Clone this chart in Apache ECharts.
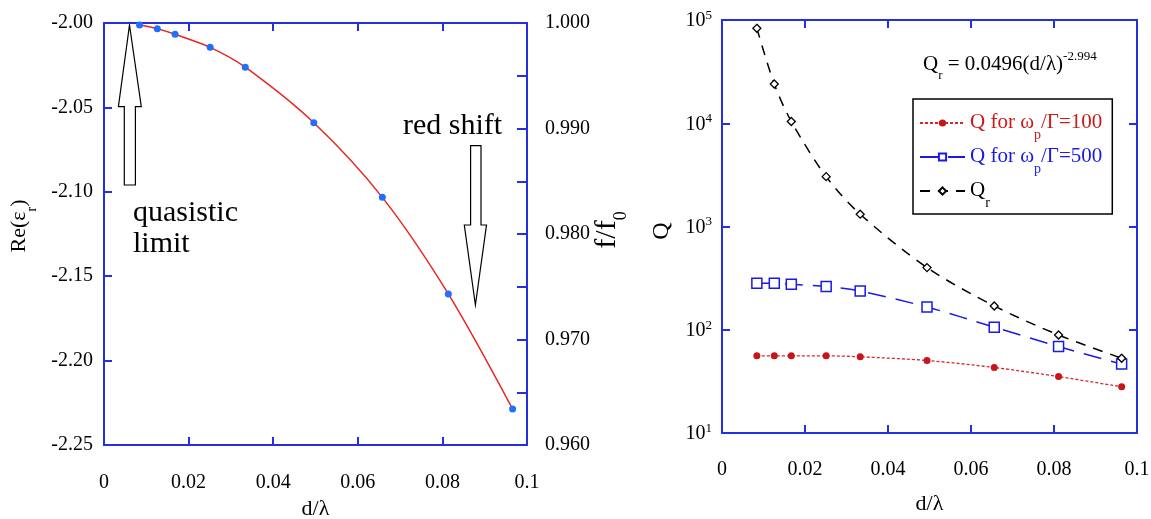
<!DOCTYPE html>
<html>
<head>
<meta charset="utf-8">
<script src="https://cdn.jsdelivr.net/npm/echarts@6/dist/echarts.min.js"></script>
<style>
  html, body { margin: 0; padding: 0; background: #fff; }
  #chart { width: 1151px; height: 519px; }
</style>
</head>
<body>
<div id="chart"></div>
<script>
// left panel: Re(eps_r) against d/lambda
const dLeft = [0.0084, 0.0126, 0.0168, 0.0251, 0.0334, 0.0496, 0.0658, 0.0814, 0.0966];
const reEps = [-2.0012, -2.0034, -2.0067, -2.0144, -2.0262, -2.0591, -2.1033, -2.1605, -2.2287];

// right panel: quality factors against d/lambda
const dRight = [0.0084, 0.0126, 0.0167, 0.0251, 0.0333, 0.0494, 0.0656, 0.0811, 0.0963];
const q100 = [55.9, 55.9, 55.9, 55.9, 54.7, 50.4, 43.1, 35.2, 28.0];
const q500 = [282, 282, 276, 262, 237, 166, 106, 68.7, 46.5];
const qr = [83100, 24000, 10400, 3040, 1316, 400, 170, 89, 53];

const xTicks = ['0', '0.02', '0.04', '0.06', '0.08', '0.1'];
const names = ['Q for ωp/Γ=100', 'Q for ωp/Γ=500', 'Qr'];

const FONT = 'Liberation Serif';
const FRAME = '#2430e0';

function zip(xs, ys) {
  return xs.map((x, i) => [x, ys[i]]);
}
function xLabel(v) {
  return xTicks[Math.round(v / 0.02)];
}

function frameAxis(extra) {
  return Object.assign({
    axisLine: {onZero: false, lineStyle: {color: FRAME, width: 2}},
    axisTick: {inside: true, length: 8, lineStyle: {color: FRAME, width: 2}},
    splitLine: {show: false},
    axisLabel: {color: '#000', fontFamily: FONT, fontSize: 20}
  }, extra);
}

const supRich = {
  b: {fontFamily: FONT, fontSize: 20, color: '#000', lineHeight: 22, verticalAlign: 'bottom'},
  e: {fontFamily: FONT, fontSize: 13, color: '#000', lineHeight: 13, verticalAlign: 'top'}
};

function legendRich(color, key) {
  const r = {};
  r[key] = {fontFamily: FONT, fontSize: 21, color: color, lineHeight: 22, verticalAlign: 'top'};
  r[key + 's'] = {fontFamily: FONT, fontSize: 14, color: color, lineHeight: 14, verticalAlign: 'top', padding: [16, 0, 0, 0]};
  return r;
}

const chart = echarts.init(document.getElementById('chart'));

chart.setOption({
  animation: false,
  backgroundColor: '#fff',
  grid: [
    {left: 104, right: 624, top: 23, bottom: 74, outerBoundsMode: 'none'},
    {left: 722, right: 14, top: 20, bottom: 86, outerBoundsMode: 'none'}
  ],
  xAxis: [
    frameAxis({gridIndex: 0, type: 'value', min: 0, max: 0.1, interval: 0.02,
      axisLabel: {color: '#000', fontFamily: FONT, fontSize: 20, margin: 28, formatter: xLabel},
      name: 'd/λ', nameLocation: 'middle', nameGap: 52,
      nameTextStyle: {color: '#000', fontFamily: FONT, fontSize: 22}}),
    frameAxis({gridIndex: 0, type: 'value', position: 'top', min: 0, max: 0.1, interval: 0.02,
      axisLabel: {show: false}}),
    frameAxis({gridIndex: 1, type: 'value', min: 0, max: 0.1, interval: 0.02,
      axisLabel: {color: '#000', fontFamily: FONT, fontSize: 20, margin: 27, formatter: xLabel},
      name: 'd/λ', nameLocation: 'middle', nameGap: 60,
      nameTextStyle: {color: '#000', fontFamily: FONT, fontSize: 22}}),
    frameAxis({gridIndex: 1, type: 'value', position: 'top', min: 0, max: 0.1, interval: 0.02,
      axisLabel: {show: false}})
  ],
  yAxis: [
    frameAxis({gridIndex: 0, type: 'value', min: -2.25, max: -2.0, interval: 0.05,
      axisLabel: {color: '#000', fontFamily: FONT, fontSize: 20, margin: 11,
        formatter: v => v.toFixed(2)}}),
    frameAxis({gridIndex: 0, type: 'value', position: 'right', min: 0.96, max: 1.0, interval: 0.01,
      axisTick: {inside: true, length: 10, lineStyle: {color: FRAME, width: 2}},
      minorTick: {show: true, splitNumber: 2, length: 10, lineStyle: {color: FRAME, width: 2}},
      axisLabel: {color: '#000', fontFamily: FONT, fontSize: 20, margin: 18,
        formatter: v => v.toFixed(3)}}),
    frameAxis({gridIndex: 1, type: 'log', logBase: 10, min: 10, max: 100000,
      axisLabel: {margin: 10, formatter: v => '{b|10}{e|' + Math.round(Math.log10(v)) + '}', rich: supRich}}),
    frameAxis({gridIndex: 1, type: 'log', logBase: 10, position: 'right', min: 10, max: 100000,
      axisLabel: {show: false}})
  ],
  legend: {
    orient: 'vertical',
    left: 913,
    top: 99,
    padding: [13, 10, 4, 6],
    itemGap: 4,
    itemWidth: 45,
    itemHeight: 9,
    borderColor: '#000',
    borderWidth: 1.5,
    backgroundColor: '#fff',
    data: names,
    formatter: function (name) {
      if (name === names[0]) return '{r|Q for ω}{rs|p}{r|/Γ=100}';
      if (name === names[1]) return '{b|Q for ω}{bs|p}{b|/Γ=500}';
      return '{k|Q}{ks|r}';
    },
    textStyle: {
      rich: Object.assign({}, legendRich('#d01818', 'r'), legendRich('#1a1ae6', 'b'), legendRich('#000', 'k'))
    }
  },
  series: [
    {
      type: 'line', xAxisIndex: 0, yAxisIndex: 0,
      data: zip(dLeft, reEps),
      smooth: 0.3,
      symbol: 'circle', symbolSize: 7,
      itemStyle: {color: '#2070ff'},
      lineStyle: {color: '#e8261e', width: 1.5}
    },
    {
      name: names[0], type: 'line', xAxisIndex: 2, yAxisIndex: 2,
      data: zip(dRight, q100),
      smooth: 0.3,
      symbol: 'circle', symbolSize: 7,
      itemStyle: {color: '#c8141c'},
      lineStyle: {color: '#d42a2a', width: 1.3, type: [3, 2]}
    },
    {
      name: names[1], type: 'line', xAxisIndex: 2, yAxisIndex: 2,
      data: zip(dRight, q500),
      smooth: 0.3,
      symbol: 'rect', symbolSize: 10,
      itemStyle: {color: '#fff', borderColor: '#1a1ae6', borderWidth: 1.5},
      lineStyle: {color: '#1a1ae6', width: 1.5, type: [18, 10]}
    },
    {
      name: names[2], type: 'line', xAxisIndex: 2, yAxisIndex: 2,
      data: zip(dRight, qr),
      smooth: 0.3,
      symbol: 'diamond', symbolSize: 8,
      itemStyle: {color: '#fff', borderColor: '#000', borderWidth: 1.3},
      lineStyle: {color: '#000', width: 1.5, type: [10, 8]}
    }
  ],
  graphic: [
    // hollow arrows
    {type: 'polygon', shape: {points: [[129.5, 25], [141.3, 106.7], [135.4, 106.7], [135.4, 185], [124.3, 185], [124.3, 106.7], [118.4, 106.7]]},
      style: {fill: '#fff', stroke: '#000', lineWidth: 1.2}},
    {type: 'polygon', shape: {points: [[470.6, 145.7], [481, 145.7], [481, 225], [486.5, 225], [475.4, 305], [464.3, 225], [470.6, 225]]},
      style: {fill: '#fff', stroke: '#000', lineWidth: 1.2}},
    {type: 'text', x: 133, y: 213, style: {text: 'quasistic', font: '30px "Liberation Serif"', fill: '#000', verticalAlign: 'middle'}},
    {type: 'text', x: 133, y: 244, style: {text: 'limit', font: '30px "Liberation Serif"', fill: '#000', verticalAlign: 'middle'}},
    {type: 'text', x: 403, y: 126, style: {text: 'red shift', font: '30px "Liberation Serif"', fill: '#000', verticalAlign: 'middle'}},
    // axis titles
    {type: 'text', x: 20, y: 226, rotation: Math.PI / 2,
      style: {text: '{m|Re(ε}{s|r}{m|)}', align: 'center', verticalAlign: 'middle',
        rich: {m: {fontFamily: FONT, fontSize: 22, fill: '#000', lineHeight: 24, verticalAlign: 'top'},
               s: {fontFamily: FONT, fontSize: 14, fill: '#000', lineHeight: 14, verticalAlign: 'top', padding: [17, 0, 0, 0]}}}},
    {type: 'text', x: 607, y: 230, rotation: Math.PI / 2,
      style: {text: '{m|f/f}{s|0}', align: 'center', verticalAlign: 'middle',
        rich: {m: {fontFamily: FONT, fontSize: 30, fill: '#000', lineHeight: 30, verticalAlign: 'top'},
               s: {fontFamily: FONT, fontSize: 18, fill: '#000', lineHeight: 18, verticalAlign: 'top', padding: [20, 0, 0, 0]}}}},
    {type: 'text', x: 662, y: 231, rotation: Math.PI / 2,
      style: {text: 'Q', font: '24px "Liberation Serif"', fill: '#000', align: 'center', verticalAlign: 'middle'}},
    // fitted formula
    {type: 'text', x: 923, y: 50,
      style: {text: '{m|Q}{s|r}{m| = 0.0496(d/λ)}{p|-2.994}',
        rich: {m: {fontFamily: FONT, fontSize: 21, fill: '#000', lineHeight: 22, verticalAlign: 'top', padding: [4, 0, 0, 0]},
               s: {fontFamily: FONT, fontSize: 13, fill: '#000', lineHeight: 13, verticalAlign: 'top', padding: [19, 0, 0, 0]},
               p: {fontFamily: FONT, fontSize: 13, fill: '#000', lineHeight: 13, verticalAlign: 'top'}}}}
  ]
});
</script>
</body>
</html>
